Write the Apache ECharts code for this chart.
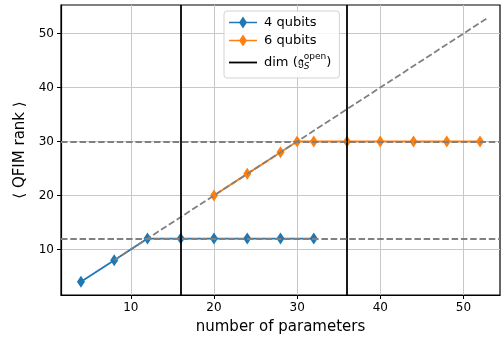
<!DOCTYPE html>
<html>
<head>
<meta charset="utf-8">
<script src="https://cdn.jsdelivr.net/npm/echarts@6/dist/echarts.min.js"></script>
<style>html,body{margin:0;padding:0;background:#fff}#c{width:501px;height:341px}</style>
</head>
<body>
<div id="c"></div>
<script>
var qubits4X = [4, 8, 12, 16, 20, 24, 28, 32];
var qubits4Y = [4, 8, 12, 12, 12, 12, 12, 12];
var qubits6X = [20, 24, 28, 30, 32, 36, 40, 44, 48, 52];
var qubits6Y = [20, 24, 28, 30, 30, 30, 30, 30, 30, 30];
var diagX = [8, 52.8];
var diagY = [8, 52.8];
var hLines = [12, 30];
var vLines = [16, 36];
var xTicks = [10, 20, 30, 40, 50];
var yTicks = [10, 20, 30, 40, 50];

function pairs(xs, ys) { return xs.map(function (x, i) { return [x, ys[i]]; }); }

var FONT = 'DejaVu Sans';
var diamondIcon = 'path://M0,5.2H10.5L14,0L17.5,5.2H28V6.8H17.5L14,12L10.5,6.8H0Z';
var lineIcon = 'path://M0,0H28V1.8H0Z';

var chart = echarts.init(document.getElementById('c'), null, {renderer: 'canvas'});
var axisCommon = {
  type: 'value',
  axisLine: {show: true, lineStyle: {color: '#000', width: 1.2}},
  axisTick: {show: true, inside: false, length: 4, lineStyle: {color: '#000', width: 1}},
  splitLine: {show: true, lineStyle: {color: '#c8c8c8', width: 1}},
  nameLocation: 'middle',
  nameTextStyle: {fontFamily: FONT, fontSize: 15, color: '#000'}
};
chart.setOption({
  animation: false,
  backgroundColor: '#fff',
  grid: {left: 61, top: 5, right: 1, bottom: 46, show: true, borderColor: '#000', borderWidth: 1.2, backgroundColor: 'transparent'},
  xAxis: Object.assign({}, axisCommon, {
    min: 1.6, max: 54.4,
    name: 'number of parameters', nameGap: 25,
    axisTick: Object.assign({}, axisCommon.axisTick, {customValues: xTicks}),
    axisLabel: {customValues: xTicks, fontFamily: FONT, fontSize: 12, color: '#000', margin: 7}
  }),
  yAxis: Object.assign({}, axisCommon, {
    min: 1.55, max: 55.3,
    name: '⟨ QFIM rank ⟩', nameGap: 32,
    axisTick: Object.assign({}, axisCommon.axisTick, {customValues: yTicks}),
    axisLabel: {customValues: yTicks, fontFamily: FONT, fontSize: 12, color: '#000', margin: 7}
  }),
  legend: {
    orient: 'vertical', left: 224, top: 11,
    padding: [5, 8, 5, 5],
    itemWidth: 28, itemHeight: 12, itemGap: 5,
    backgroundColor: 'rgba(255,255,255,0.85)',
    borderColor: '#d3d3d3', borderWidth: 1, borderRadius: 3,
    data: [
      {name: '4 qubits', icon: diamondIcon},
      {name: '6 qubits', icon: diamondIcon},
      {name: 'dim', icon: lineIcon}
    ],
    formatter: function (n) {
      if (n === 'dim') return '{t|dim (}{g|𝔤}{sub|S}{sup|open}{t|)}';
      return '{t|' + n + '}';
    },
    textStyle: {
      fontFamily: FONT, fontSize: 13, color: '#000', padding: [0, 0, 0, 2],
      rich: {
        t: {fontFamily: FONT, fontSize: 13, color: '#000', lineHeight: 16},
        g: {fontFamily: 'DejaVu Serif', fontSize: 13, color: '#000', lineHeight: 16},
        sub: {fontFamily: FONT, fontStyle: 'italic', fontSize: 9, color: '#000', padding: [9, 0, 0, 0], width: 0.1, lineHeight: 16},
        sup: {fontFamily: FONT, fontSize: 9, color: '#000', padding: [0, 0, 12, 0], lineHeight: 16}
      }
    }
  },
  series: [
    {
      name: '4 qubits', type: 'line', data: pairs(qubits4X, qubits4Y),
      color: '#1f77b4', symbol: 'diamond', symbolSize: [8, 12],
      itemStyle: {borderWidth: 0},
      lineStyle: {width: 1.8}, z: 2
    },
    {
      name: '6 qubits', type: 'line', data: pairs(qubits6X, qubits6Y),
      color: '#ff7f0e', symbol: 'diamond', symbolSize: [8, 12],
      itemStyle: {borderWidth: 0},
      lineStyle: {width: 1.8}, z: 2
    },
    {
      name: 'dim', type: 'line', data: [], color: '#000', symbol: 'none',
      markLine: {
        silent: true, symbol: ['none', 'none'], label: {show: false},
        lineStyle: {color: '#000', width: 1.8, type: 'solid'},
        data: vLines.map(function (v) { return {xAxis: v}; })
      },
      z: 3
    },
    {
      name: 'ref', type: 'line', data: pairs(diagX, diagY), color: '#808080',
      symbol: 'none', lineStyle: {width: 1.8, type: [6.5, 2.8], color: '#808080'},
      markLine: {
        silent: true, symbol: ['none', 'none'], label: {show: false},
        lineStyle: {color: '#808080', width: 1.8, type: [6.5, 2.8]},
        data: hLines.map(function (v) { return {yAxis: v}; })
      },
      z: 4
    }
  ]
});
</script>
</body>
</html>
